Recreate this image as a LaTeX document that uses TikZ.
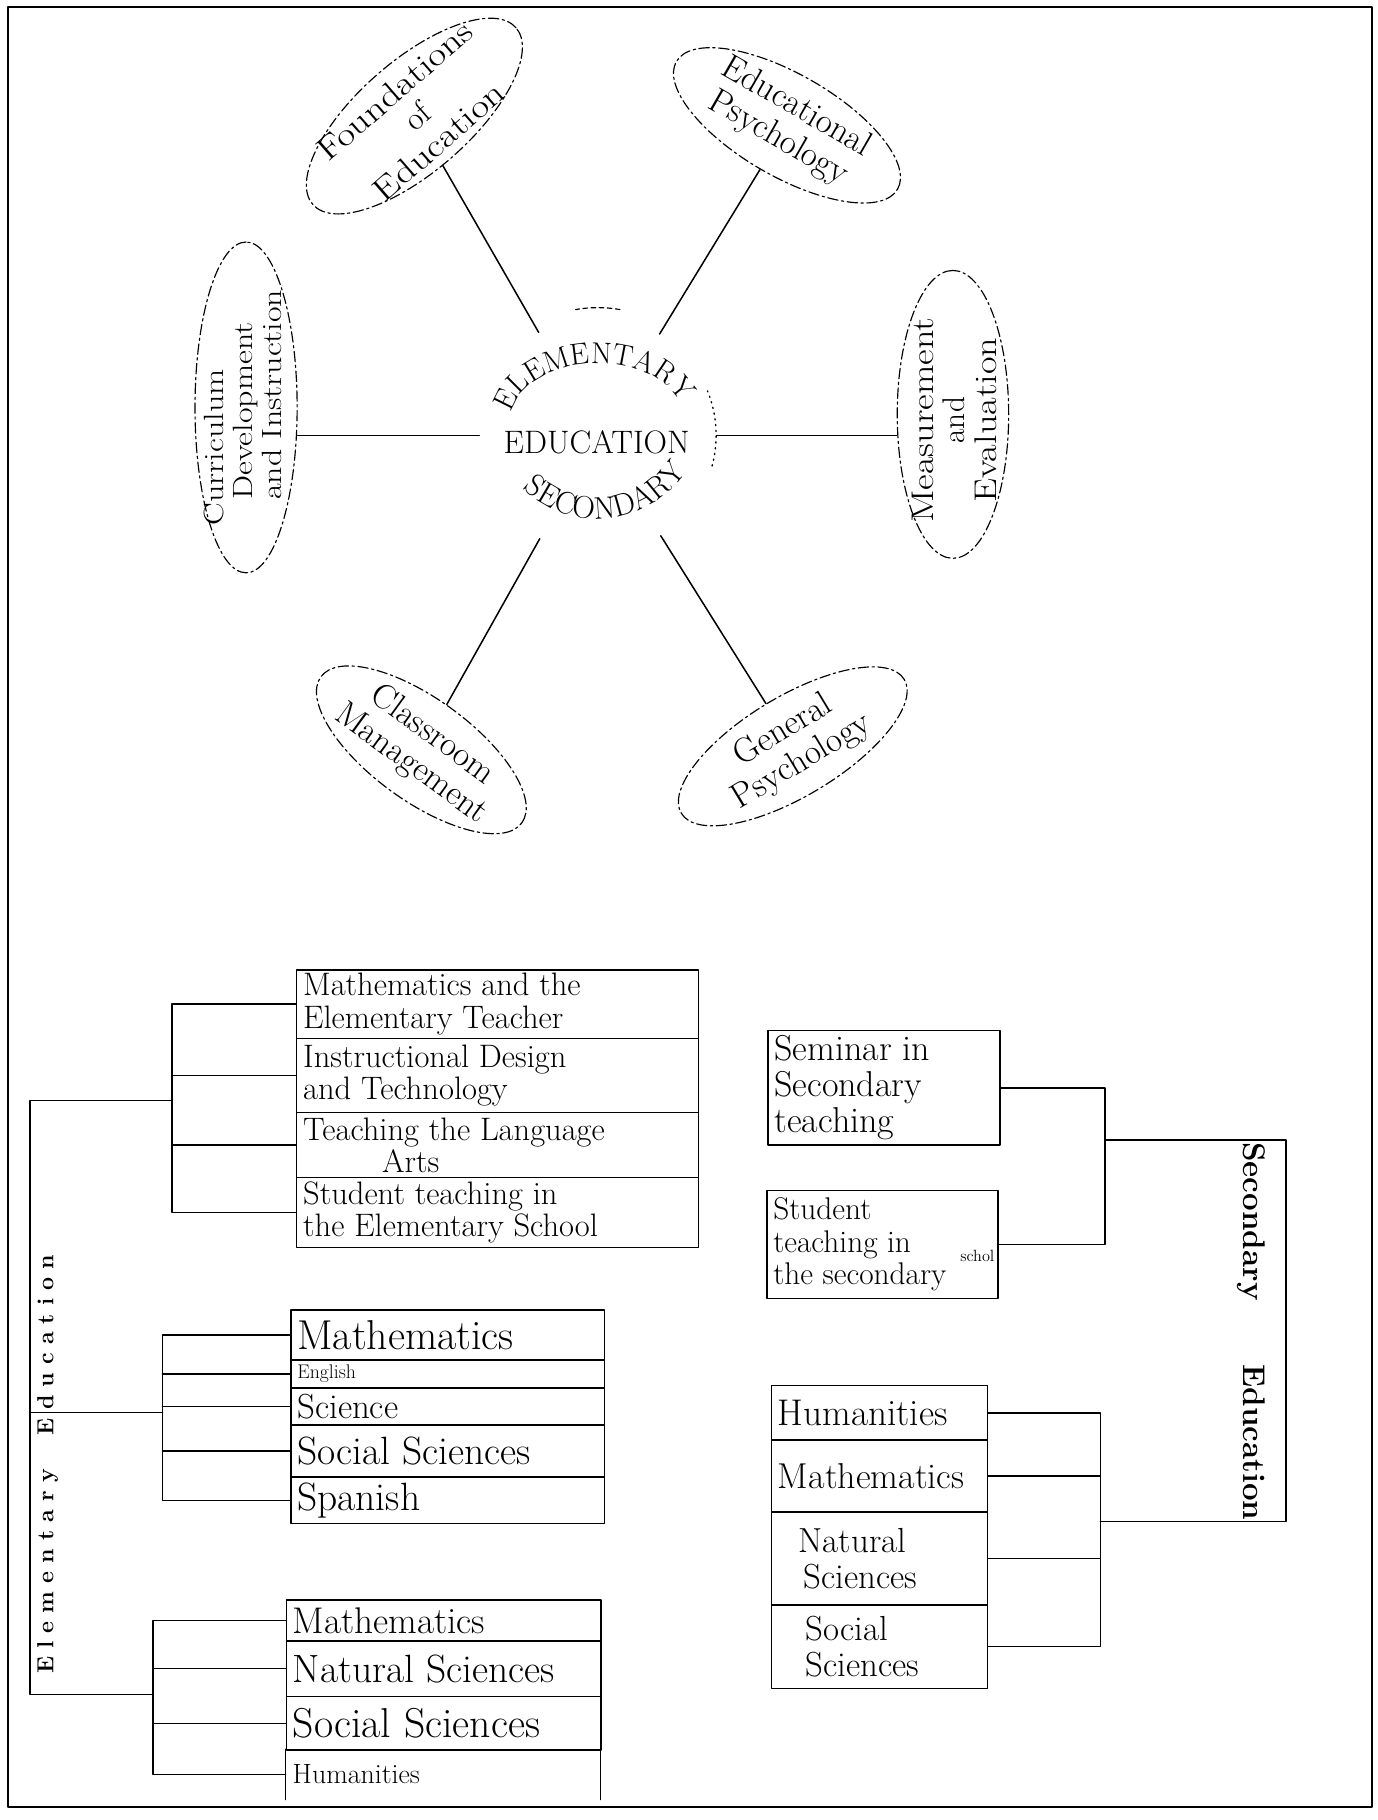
\documentclass[tikz,border=0pt]{standalone}
\usepackage{fontspec}
\usepackage{graphicx}
\usetikzlibrary{shapes.geometric,decorations.text}
\newcommand\hfs[2]{\fontsize{#1}{#2}\selectfont}
\newcommand\ctrfontA{\fontsize{26}{26}\selectfont}
\newcommand\ctrfontB{\fontsize{27}{27}\selectfont}
\newcommand\sx[1]{\scalebox{1.22}[1]{#1}}
\newcommand\lsp[1]{\lspaux#1\relax}
\def\lspaux#1{\ifx#1\relax\else#1\kern7pt\expandafter\lspaux\fi}
\tikzset{
  ln/.style={line width=1.3pt},
  rowbox/.style={draw, line width=1.3pt, rectangle, inner sep=0pt, anchor=north west},
  rowtext/.style={inner sep=0pt, anchor=west, align=left},
  oval/.style={draw, ellipse, line width=1pt, dash pattern=on 9pt off 3pt on 2pt off 3pt, inner sep=0pt},
  ovaltext/.style={align=center, inner sep=0pt},
}
% name, x, y, width, height, font, text
\newcommand\RB[7]{%
  \node[rowbox, minimum width=#4pt, minimum height=#5pt] (#1) at (#2,-#3) {};
  \node[rowtext, font={#6}] (#1t) at ([xshift=6pt]#1.west) {#7};}
\begin{document}
\begin{tikzpicture}[x=1pt,y=1pt, line join=round, line cap=round]
\useasboundingbox (0,0) rectangle (1187,-1568);
\draw[line width=2pt] (7,-6) rectangle (1182,-1557);

% ---------- centre ----------
\node[circle, minimum size=204pt, inner sep=0pt] (ctr) at (515,-375) {};
\node[inner sep=0pt, font=\hfs{28}{28}] (edu) at (514,-381) {EDUCATION};
\path[decorate, decoration={text along path, text={|\ctrfontA|ELEMENTARY}, text align=center}]
  (440.2,-374.0) arc[start angle=190, end angle=0, x radius=76pt, y radius=52pt];
\path[decorate, decoration={text along path, text={|\ctrfontB|SECONDARY}, text align=center}]
  (437.0,-403.75) arc[start angle=212, end angle=340, radius=92pt];
\draw[line width=1.2pt, dash pattern=on 1pt off 4pt] (613.5,-401.4) arc[start angle=-15, end angle=22, radius=102pt];
\draw[line width=1pt, dash pattern=on 4pt off 3pt] (534.1,-266.7) arc[start angle=80, end angle=100, radius=110pt];

% ---------- ovals ----------
\node[oval, rotate=41, minimum width=232pt, minimum height=96pt] (found) at (357,-100) {};
\node[ovaltext, rotate=41, font=\hfs{28}{29}] (foundt) at (359,-100) {\sx{Foundations}\\of\\\sx{Education}};

\node[oval, rotate=-30, minimum width=220pt, minimum height=88pt] (edup) at (678,-108) {};
\node[ovaltext, rotate=-30, font=\hfs{30}{31}] (edupt) at (678,-106) {Educational\\Psychology};

\node[oval, rotate=90, minimum width=285pt, minimum height=88pt] (curric) at (212,-351) {};
\node[ovaltext, rotate=90, align=left, font=\hfs{24}{25}] (currict) at (209,-351)
  {\sx{Curriculum}\\\hspace*{22pt}\sx{Development}\\\hspace*{22pt}\sx{and Instruction}};

\node[oval, rotate=90, minimum width=248pt, minimum height=96pt] (meas) at (821,-357) {};
\node[ovaltext, rotate=90, font=\hfs{27}{27}] (meast) at (822,-362) {\sx{Measurement}\\and\\\sx{Evaluation}};

\node[oval, rotate=-36, minimum width=214pt, minimum height=88pt] (clsm) at (363,-646) {};
\node[ovaltext, rotate=-36, font=\hfs{30}{31}] (clsmt) at (363,-646) {Classroom\\Management};

\node[oval, rotate=31, minimum width=224pt, minimum height=86pt] (genp) at (683,-643) {};
\node[ovaltext, rotate=31, font=\hfs{30}{31}] (genpt) at (683,-643) {General\\Psychology};

\draw[ln] (ctr) -- (found);
\draw[ln] (ctr) -- (edup);
\draw[ln] (ctr) -- (clsm);
\draw[ln] (ctr) -- (genp);
\draw[ln] (ctr.west) -- (ctr.west -| curric.south);
\draw[ln] (ctr.east) -- (ctr.east -| meas.north);

% ---------- Elementary block 1 ----------
\RB{e1a}{255}{835}{346}{59}{\hfs{28}{28}}{Mathematics and the\\Elementary Teacher}
\RB{e1b}{255}{894}{346}{64}{\hfs{28}{28}}{Instructional Design\\and Technology}
\RB{e1c}{255}{958}{346}{56}{\hfs{28}{28}}{Teaching the Language\\\hspace*{68pt}Arts}
\RB{e1d}{255}{1014}{346}{60}{\hfs{28}{28}}{Student teaching in\\the Elementary School}

% ---------- Elementary block 2 ----------
\RB{e2a}{250}{1128}{270}{43}{\hfs{36}{36}}{Mathematics}
\RB{e2b}{250}{1171}{270}{24}{\hfs{17}{17}}{English}
\RB{e2c}{250}{1195}{270}{32}{\hfs{30}{30}}{Science}
\RB{e2d}{250}{1227}{270}{45}{\hfs{34}{34}}{Social Sciences}
\RB{e2e}{250}{1272}{270}{40}{\hfs{34}{34}}{Spanish}

% ---------- Elementary block 3 ----------
\RB{e3a}{246}{1378}{271}{35}{\hfs{32}{32}}{Mathematics}
\RB{e3b}{246}{1413}{271}{48}{\hfs{34}{34}}{Natural Sciences}
\RB{e3c}{246}{1461}{271}{46}{\hfs{36}{36}}{Social Sciences}
\node[inner sep=0pt, minimum width=271pt, minimum height=43pt, anchor=north west] (e3d) at (246,-1507) {};
\draw[ln] (e3d.north west) -- (e3d.south west) (e3d.north east) -- (e3d.south east);
\node[rowtext, font=\hfs{24}{24}] (e3dt) at ([xshift=6pt]e3d.west) {Humanities};

% ---------- Elementary brackets ----------
\coordinate (b1) at (148,-948);
\draw[ln] (e1a.west) -| (b1) |- (e1d.west);
\draw[ln] (e1b.west) -- (e1b.west -| b1);
\draw[ln] (e1c.west) -- (e1c.west -| b1);

\coordinate (b2) at (140,-1217);
\draw[ln] (e2a.west) -| (b2) |- (e2e.west);
\draw[ln] (e2b.west) -- (e2b.west -| b2);
\draw[ln] (e2c.west) -- (e2c.west -| b2);
\draw[ln] (e2d.west) -- (e2d.west -| b2);

\coordinate (b3) at (132,-1460);
\draw[ln] (e3a.west) -| (b3) |- (e3d.west);
\draw[ln] (e3b.west) -- (e3b.west -| b3);
\draw[ln] (e3c.west) -- (e3c.west -| b3);

\coordinate (m1) at (26,-948);
\coordinate (m2) at (26,-1217);
\coordinate (m3) at (26,-1460);
\draw[ln] (b1) -- (m1) -- (m3) -- (b3);
\draw[ln] (m2) -- (b2);

\node[rotate=90, inner sep=0pt, font={\hfs{20}{20}\bfseries}] (elab) at (41,-1258)
  {\lsp{Elementary}\hspace{22pt}\lsp{Education}};

% ---------- Secondary ----------
\RB{s1}{661}{887}{200}{99}{\hfs{31}{31}}{Seminar in\\Secondary\\teaching}
\RB{s2}{660}{1025}{199}{93}{\hfs{27}{28}}{Student\\teaching in\\the secondary}
\node[inner sep=0pt, font=\hfs{14}{14}] (schol) at (842,-1082) {schol};

\RB{s3a}{664}{1193}{186}{47}{\hfs{32}{32}}{Humanities}
\RB{s3b}{664}{1240}{186}{62}{\hfs{31}{31}}{Mathematics}
\RB{s3c}{664}{1302}{186}{80}{\hfs{30}{31}}{\hspace*{18pt}Natural\\\hspace*{22pt}Sciences}
\RB{s3d}{664}{1382}{186}{72}{\hfs{30}{31}}{\hspace*{24pt}Social\\\hspace*{24pt}Sciences}

\coordinate (b4) at (952,-982);
\coordinate (q1) at (1108,-982);
\coordinate (b5) at (948,-1311);
\draw[ln] (s1.east) -| (b4) |- (s2.east);
\draw[ln] (b4) -- (q1) |- (b5);
\draw[ln] (s3a.east) -| (b5) |- (s3d.east);
\draw[ln] (s3b.east) -- (s3b.east -| b5);
\draw[ln] (s3c.east) -- (s3c.east -| b5);

\node[rotate=-90, inner sep=0pt, font={\hfs{27}{27}\bfseries}] (slab) at (1078,-1147)
  {Secondary\hspace{55pt}Education};
\end{tikzpicture}
\end{document}
